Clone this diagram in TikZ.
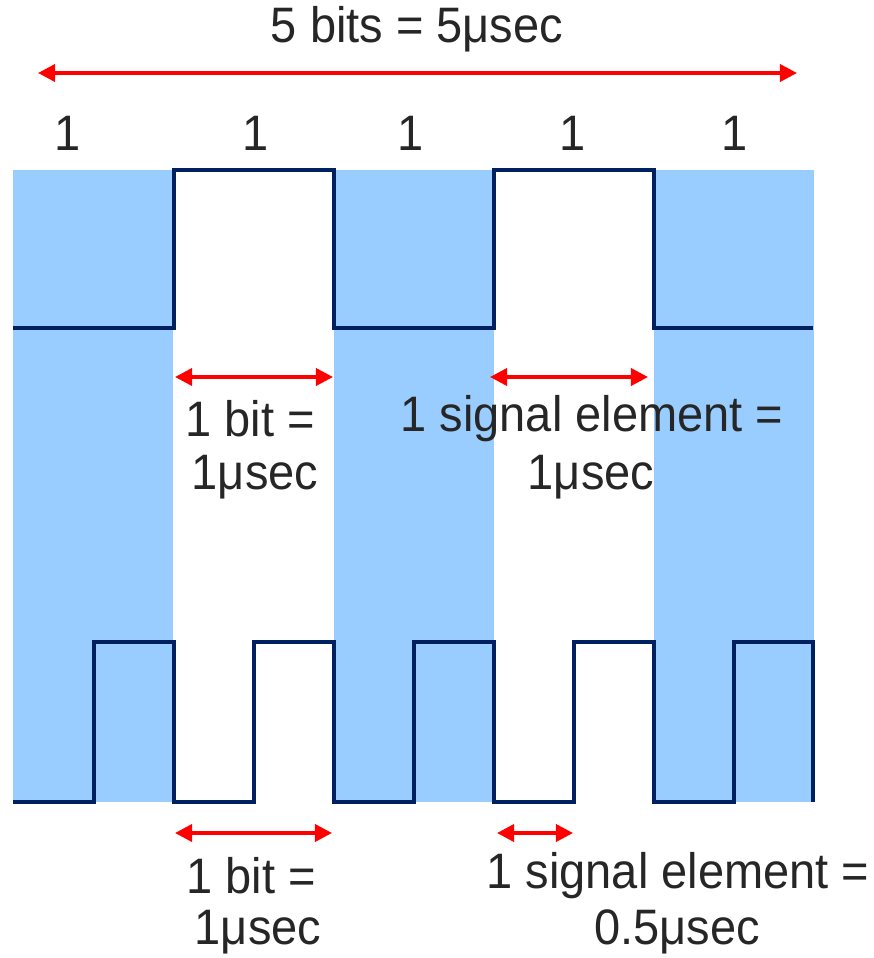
\documentclass[tikz,border=0pt]{standalone}
\usepackage{fontspec}
\setmainfont{Liberation Sans}
\usepackage{xcolor}
\usepackage{tikz}
\usetikzlibrary{arrows.meta}
\definecolor{bandblue}{RGB}{153,204,255}
\definecolor{signavy}{RGB}{0,32,96}
\definecolor{dimred}{RGB}{255,0,0}
\definecolor{textgray}{RGB}{38,38,38}

\begin{document}
\begin{tikzpicture}[
  x=0.5pt, y=-0.5pt,
  font=\fontsize{23.5}{26}\selectfont,
  band/.style={fill=bandblue},
  sig/.style={draw=signavy, line width=2pt, line join=miter},
  dim/.style={{Triangle[length=3mm,width=3mm]}-{Triangle[length=3mm,width=3mm]}, dimred, line width=1.8pt},
  lbl/.style={text=textgray, inner sep=0pt, yscale=1.06}
]
\useasboundingbox (0,0) rectangle (873,958);

% Bands for bits 1, 3, 5
\foreach \bx in {13,334,654}
  \fill[band] (\bx,170) rectangle ++(160,632);

% Top signal
\draw[sig] (13,328) -- (174,328) -- (174,170) -- (334,170) -- (334,328) -- (494,328)
  -- (494,170) -- (654,170) -- (654,328) -- (813,328);

% Bottom signal
\draw[sig] (13,802) -- (94,802) -- (94,642) -- (174,642) -- (174,802) -- (254,802)
  -- (254,642) -- (334,642) -- (334,802) -- (414,802) -- (414,642) -- (494,642)
  -- (494,802) -- (574,802) -- (574,642) -- (654,642) -- (654,802) -- (734,802)
  -- (734,642) -- (813,642) -- (813,802);

% Title and bits
\node[lbl] (title) at (417,29) {5 bits = 5μsec};
\node[lbl] (b1) at (68,133) {1};
\node[lbl] (b2) at (256,133) {1};
\node[lbl] (b3) at (411,133) {1};
\node[lbl] (b4) at (573,133) {1};
\node[lbl] (b5) at (735,133) {1};

% Arrow ends
\coordinate (tl) at (38,73);
\coordinate (tr) at (797,73);
\coordinate (ml1) at (175,377);
\coordinate (mr1) at (333,377);
\coordinate (ml2) at (490,377);
\coordinate (mr2) at (648,377);
\coordinate (ll1) at (175,833);
\coordinate (lr1) at (332,833);
\coordinate (ll2) at (497,833);
\coordinate (lr2) at (573,833);

% Arrows
\draw[dim] (tl) -- (tr);
\draw[dim] (ml1) -- (mr1);
\draw[dim] (ml2) -- (mr2);
\draw[dim] (ll1) -- (lr1);
\draw[dim] (ll2) -- (lr2);

% Middle labels
\node[lbl] (mbit) at (250,419) {1 bit =};
\node[lbl] (mbitt) at (255,477) {1μsec};
\node[lbl] (msig) at (592,419) {1 signal element =};
\node[lbl] (msigt) at (591,477) {1μsec};

% Bottom labels
\node[lbl] (lbit) at (251,876) {1 bit =};
\node[lbl] (lbitt) at (258,932) {1μsec};
\node[lbl] (lsig) at (678,876) {1 signal element =};
\node[lbl] (lsigt) at (677,932) {0.5μsec};
\end{tikzpicture}
\end{document}
